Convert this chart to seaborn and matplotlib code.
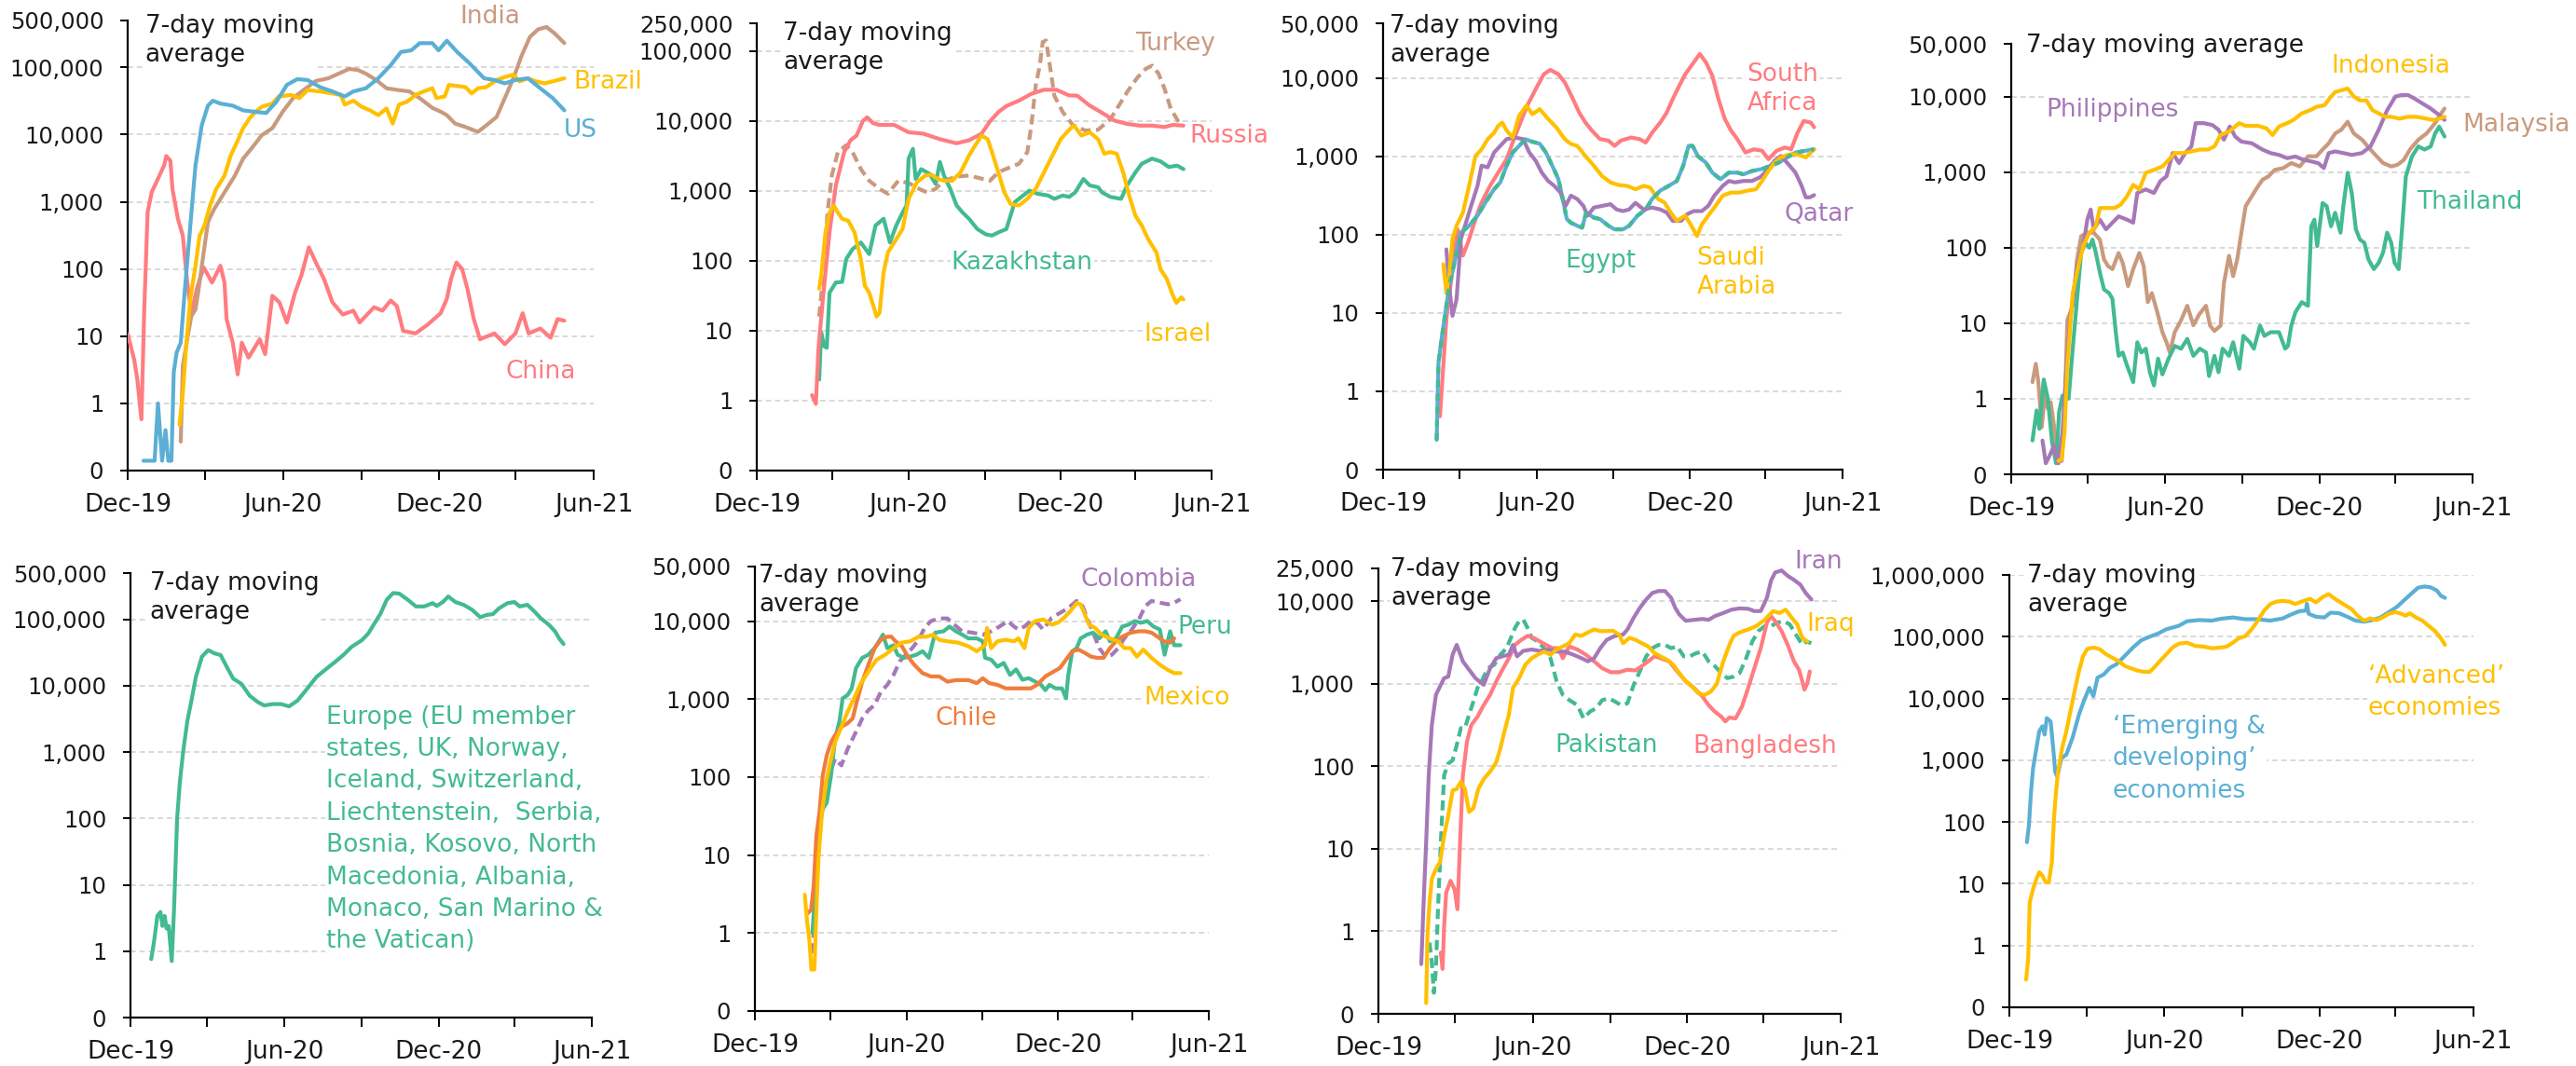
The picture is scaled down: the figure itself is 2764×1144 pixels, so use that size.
import numpy as np
import pandas as pd
import matplotlib
matplotlib.use("Agg")
import matplotlib.pyplot as plt
import matplotlib.dates as mdates
import seaborn as sns

sns.set_theme(style="white")
plt.rcParams["font.family"] = ["DejaVu Sans"]

# ---------------- data: months since 1 Dec 2019, 7-day average daily new cases ----------------
# Panel 1
china_m = [0.0,0.25,0.37,0.53,0.64,0.77,0.93,1.17,1.41,1.49,1.65,1.73,1.94,2.13,2.3,2.46,2.7,2.94,3.26,3.58,3.74,3.82,4.06,4.25,4.41,4.67,5.1,5.31,5.59,5.86,6.15,6.47,6.71,7.0,7.27,7.59,7.91,8.31,8.72,8.96,9.52,9.84,10.16,10.4,10.64,11.12,11.6,12.09,12.33,12.49,12.7,12.92,13.13,13.37,13.61,14.17,14.57,14.98,15.26,15.49,15.94,16.34,16.61,16.87]
china_v = [10.7,4.5,2.3,0.58,25,700,1400,2200,3500,4800,4100,1550,560,315,63,22,56,105,63,112,63,18,8,2.7,8,4.8,9,5.4,40,32,16,45,80,210,125,70,32,21,24,16,27,24,34,28,12,11,15,22,36,71,125,100,50,18,9,11,7.6,11,22,11,13,9.5,18,17]
us_m = [0.61,1.04,1.17,1.33,1.46,1.57,1.69,1.78,1.89,2.05,2.21,2.42,2.62,2.86,3.1,3.29,3.58,4.06,4.46,4.86,5.35,5.75,6.15,6.55,6.95,7.43,7.91,8.39,8.72,9.2,9.68,10.16,10.56,10.96,11.28,11.77,12.01,12.33,12.73,13.21,13.77,14.17,14.57,14.98,15.46,15.94,16.42,16.87]
us_v = [0.14,0.14,1.0,0.14,0.4,0.14,0.14,2.9,5.7,8,50,445,3500,13700,27000,32000,29000,27000,23000,22000,21000,31000,55000,67000,65000,51000,44000,37000,44000,49000,69000,108000,170000,180000,230000,230000,180000,250000,170000,115000,69000,65000,58000,65000,69000,49000,35000,23000]
india_m = [2.05,2.13,2.3,2.46,2.62,2.74,2.94,3.1,3.34,3.58,3.82,4.14,4.46,4.78,5.18,5.59,5.99,6.39,6.79,7.27,7.75,8.15,8.55,8.88,9.2,9.6,10.0,10.48,10.88,11.28,11.77,12.09,12.33,12.65,13.05,13.53,13.85,14.25,14.57,14.9,15.22,15.54,15.86,16.18,16.5,16.87]
india_v = [0.27,3.6,9,20,25,50,180,500,780,1100,1550,2450,4400,6200,9800,12500,22000,35000,46000,63000,69000,81000,95000,92000,81000,65000,49000,46000,44000,35000,25000,22000,19500,14600,13000,11000,13700,18300,35000,69000,150000,285000,370000,400000,320000,230000]
brazil_m = [2.0,2.13,2.26,2.42,2.62,2.78,2.97,3.18,3.42,3.74,3.98,4.22,4.46,4.7,4.94,5.18,5.59,5.83,6.31,6.63,6.95,7.43,7.91,8.23,8.39,8.72,9.04,9.36,9.68,10.0,10.24,10.48,10.8,11.12,11.44,11.77,11.93,12.25,12.41,12.73,13.05,13.29,13.53,13.85,14.25,14.57,14.9,15.14,15.46,15.78,16.1,16.42,16.87]
brazil_v = [0.48,1.4,7.2,36,112,315,445,880,1550,2450,4900,7700,12500,17300,22000,26000,29000,37000,39000,35000,46000,44000,41000,39000,28000,32000,26000,23000,19500,24500,14600,28000,31000,39000,44000,49000,35000,37000,55000,53000,51000,41000,49000,51000,65000,72000,78000,62000,69000,62000,58000,62000,69000]

# Panel 2
russia_m = [2.19,2.34,2.44,2.64,2.88,3.13,3.46,3.71,3.95,4.2,4.37,4.61,4.86,5.44,6.01,6.59,7.25,7.91,8.4,8.9,9.23,9.56,9.88,10.38,10.87,11.37,11.86,12.36,12.69,13.18,13.67,14.17,14.66,15.16,15.65,16.14,16.47,16.89]
russia_v = [1.2,0.9,5.5,35,255,1200,3600,5300,6200,10000,11300,9300,8800,8800,6900,6600,5500,4800,5300,6600,9900,13400,16400,19600,24500,28000,28000,23300,23000,16600,13100,10100,9100,8600,8600,8200,8800,8600]
turkey_m = [2.47,2.64,2.8,2.97,3.21,3.54,3.79,4.12,4.45,4.86,5.19,5.6,6.01,6.43,6.75,7.08,7.41,7.91,8.4,8.9,9.23,9.56,10.05,10.38,10.71,10.87,11.04,11.2,11.32,11.45,11.58,11.78,12.11,12.52,13.01,13.51,14.0,14.33,14.66,15.07,15.4,15.65,15.9,16.14,16.39,16.67,16.8]
turkey_v = [16,68,490,1660,3600,4500,3600,2050,1400,1070,910,1400,1300,1070,950,1070,1400,1600,1660,1500,1400,1850,2200,2450,3600,8700,32000,62000,135000,142000,70000,23000,13500,8700,7300,7500,10700,16600,26000,42000,56000,62000,48000,29000,14900,10100,9100]
kaz_m = [2.47,2.55,2.67,2.77,2.88,3.13,3.38,3.54,3.79,4.12,4.45,4.7,5.02,5.27,5.52,5.77,5.93,6.01,6.18,6.29,6.51,6.84,7.08,7.25,7.41,7.66,7.91,8.15,8.4,8.73,9.06,9.31,9.56,9.88,10.21,10.54,10.79,11.12,11.53,11.78,12.11,12.36,12.6,12.93,13.18,13.51,13.67,14.0,14.42,14.66,14.99,15.24,15.65,15.98,16.31,16.64,16.89]
kaz_v = [2,9.4,6,5.7,35,49,50,106,147,183,125,320,400,183,320,490,620,2900,4000,1480,2050,1750,1260,2600,1660,1070,620,490,400,285,240,230,255,285,690,860,1010,910,860,770,860,820,950,1480,1200,1130,950,820,770,1200,1850,2450,2900,2650,2200,2300,2050]
israel_m = [2.47,2.55,2.72,2.88,3.05,3.21,3.38,3.62,3.87,4.12,4.28,4.45,4.61,4.74,4.86,5.02,5.19,5.44,5.77,6.01,6.34,6.67,6.92,7.17,7.41,7.74,8.07,8.4,8.65,8.9,9.14,9.31,9.56,9.8,10.05,10.38,10.71,11.04,11.37,11.7,12.03,12.27,12.55,12.85,13.18,13.51,13.76,14.0,14.25,14.5,14.74,14.99,15.24,15.49,15.82,15.98,16.23,16.47,16.61,16.8,16.89]
israel_v = [40,61,255,490,620,490,400,375,255,105,44,35,23,16,18,68,132,183,285,770,1330,1660,1700,1480,1400,1400,1850,3200,4500,6200,5500,3600,1850,950,650,620,770,1070,1850,3200,5500,6900,8700,6200,6900,5500,3400,3600,3400,1850,860,440,320,205,132,76,55,32,25,30,28]

# Panel 3
safrica_m = [2.23,2.36,2.48,2.64,2.8,2.92,3.13,3.37,3.62,3.86,4.19,4.51,4.84,5.08,5.33,5.65,5.98,6.3,6.55,6.87,7.12,7.44,7.69,7.93,8.18,8.5,8.83,9.07,9.32,9.72,10.05,10.29,10.54,10.86,11.11,11.35,11.6,11.84,12.08,12.41,12.65,12.9,13.14,13.39,13.63,13.88,14.2,14.53,14.85,15.1,15.42,15.75,15.99,16.24,16.48,16.76,16.89]
safrica_v = [0.48,2.1,8.3,22,59,117,54,87,158,257,420,620,920,1500,2450,4450,7200,11200,12700,11200,8800,5400,3600,2700,2140,1660,1590,1360,1590,1740,1660,1500,2000,2700,3600,5400,7900,11200,14400,20300,15900,10700,5400,3000,2140,1660,1120,1230,1180,920,1180,1300,1230,2000,2830,2700,2350]
egypt_m = [2.1,2.17,2.31,2.44,2.59,2.8,3.05,3.37,3.7,4.02,4.35,4.59,4.84,5.08,5.33,5.57,5.81,6.14,6.38,6.63,6.87,7.04,7.2,7.36,7.61,7.8,7.96,8.26,8.5,8.83,9.07,9.4,9.64,9.97,10.29,10.54,10.86,11.19,11.51,11.76,11.97,12.13,12.33,12.65,12.9,13.22,13.55,13.88,14.12,14.45,14.85,15.18,15.5,15.83,16.16,16.56,16.89]
egypt_v = [0.24,2.3,5.1,10,22,44,106,130,175,260,380,465,760,1120,1360,1660,1550,1450,1120,760,510,285,158,142,130,123,192,165,158,130,117,117,130,175,210,285,365,420,485,760,1360,1360,1010,830,620,510,620,620,590,650,690,760,830,970,1120,1180,1230]
qatar_m = [2.48,2.59,2.72,2.88,3.05,3.21,3.45,3.7,3.86,4.1,4.35,4.59,4.84,5.16,5.49,5.73,5.98,6.22,6.47,6.71,6.95,7.15,7.36,7.61,7.85,8.01,8.26,8.58,8.91,9.15,9.4,9.64,9.89,10.21,10.54,10.86,11.11,11.35,11.68,11.92,12.17,12.49,12.74,12.98,13.31,13.55,13.79,14.12,14.45,14.77,15.1,15.34,15.59,15.83,16.16,16.4,16.56,16.73,16.89]
qatar_v = [65,22,9.2,15,88,130,233,420,760,725,1120,1360,1660,1740,1660,1120,880,620,485,420,345,233,315,285,233,175,222,233,245,210,200,210,255,210,222,210,192,150,150,183,200,200,233,315,420,485,465,485,485,540,690,880,1010,830,620,420,300,300,320]
saudi_m = [2.36,2.48,2.59,2.72,2.88,3.13,3.37,3.62,3.86,4.1,4.35,4.51,4.67,4.84,5.08,5.33,5.62,5.85,6.14,6.47,6.79,7.12,7.36,7.61,7.93,8.26,8.58,8.91,9.23,9.56,9.89,10.21,10.46,10.78,11.03,11.27,11.51,11.84,12.08,12.3,12.49,12.74,12.98,13.31,13.63,13.96,14.28,14.61,14.85,15.1,15.34,15.59,15.91,16.24,16.56,16.76,16.89]
saudi_v = [42,18,30,88,130,192,420,1010,1230,1660,2000,2450,2700,2140,1740,3300,4450,3450,4000,3000,2340,1660,1440,1360,1010,760,560,465,430,420,380,420,400,285,257,192,150,175,130,96,135,175,222,315,345,345,365,380,485,650,830,970,1060,1060,970,1120,1230]

# Panel 4
phil_m = [1.22,1.35,1.51,1.67,1.84,2.0,2.16,2.32,2.57,2.81,2.97,3.1,3.22,3.46,3.7,3.95,4.19,4.52,4.76,4.92,5.25,5.57,5.82,6.06,6.3,6.55,6.79,7.03,7.2,7.52,7.85,8.09,8.3,8.53,8.74,8.98,9.39,9.8,10.12,10.45,10.77,11.09,11.42,11.74,11.99,12.2,12.39,12.64,12.96,13.29,13.69,14.02,14.34,14.67,14.99,15.24,15.48,15.72,16.05,16.37,16.7,16.91]
phil_v = [0.28,0.14,0.18,0.24,0.14,0.36,2.75,12.5,57,105,235,320,175,235,175,214,260,235,214,530,590,530,760,880,1790,1320,1790,2190,4450,4450,4200,3640,2690,4020,2960,2540,2410,1990,1790,1690,1530,1610,1450,1380,1310,1130,1790,1880,1790,1690,1790,2190,3640,6600,10000,10500,10500,9500,8100,6950,5700,4900]
indo_m = [1.84,1.97,2.08,2.19,2.4,2.62,2.81,3.05,3.3,3.46,3.7,4.03,4.27,4.52,4.76,5.0,5.25,5.57,5.9,6.14,6.38,6.71,7.03,7.36,7.68,7.93,8.17,8.5,8.9,9.15,9.63,9.96,10.2,10.45,10.77,11.01,11.34,11.66,11.91,12.23,12.48,12.64,12.88,13.13,13.37,13.61,13.86,14.1,14.34,14.59,14.83,15.16,15.48,15.81,16.21,16.46,16.7,16.91]
indo_v = [0.15,0.16,0.36,2.75,25,57,105,158,190,335,335,335,370,480,680,590,980,1070,1190,1450,1790,1790,1880,1990,1990,2190,3100,3450,4450,4100,4100,3800,3100,4020,4450,4900,6000,6600,7300,7700,10000,11500,12100,12800,10000,8900,8900,6600,6000,5400,5400,5100,5400,5400,5100,4900,5100,5400]
malay_m = [0.83,0.96,1.06,1.19,1.32,1.43,1.54,1.67,1.75,1.97,2.08,2.19,2.4,2.57,2.73,2.97,3.22,3.46,3.62,3.78,3.95,4.19,4.35,4.56,4.76,5.0,5.17,5.33,5.49,5.7,5.9,6.06,6.19,6.38,6.63,6.87,7.11,7.33,7.6,7.76,7.93,8.17,8.3,8.5,8.66,8.82,8.98,9.15,9.31,9.55,9.8,10.04,10.28,10.61,10.93,11.26,11.58,11.91,12.15,12.39,12.64,12.88,13.13,13.37,13.69,14.02,14.26,14.51,14.83,15.07,15.32,15.56,15.89,16.21,16.54,16.78,16.91]
malay_v = [1.66,2.9,1.66,0.42,1.2,0.74,0.9,0.44,0.15,0.15,0.6,11,17,70,142,158,158,128,70,57,52,85,63,31,52,85,57,19,25,14,7.6,5.6,4.1,7.6,11,17,9.4,13,17,9.3,7.9,9.3,34,78,42,70,158,355,435,590,790,880,1070,1130,1320,1190,1620,1620,1990,2410,3250,3640,4650,3250,2690,1990,1620,1320,1190,1250,1450,1990,2690,3250,4450,6000,6950]
thai_m = [0.83,0.99,1.1,1.27,1.43,1.59,1.75,1.87,2.0,2.24,2.4,2.57,2.73,2.89,3.05,3.17,3.3,3.46,3.62,3.82,3.95,4.08,4.19,4.35,4.52,4.76,4.92,5.08,5.25,5.41,5.57,5.73,5.9,6.14,6.38,6.63,6.87,7.11,7.36,7.6,7.72,7.93,8.09,8.25,8.5,8.66,8.9,9.06,9.31,9.47,9.71,9.88,10.12,10.45,10.69,10.8,10.93,11.09,11.34,11.58,11.71,11.83,11.94,12.15,12.31,12.48,12.64,12.85,12.96,13.13,13.29,13.45,13.61,13.78,13.94,14.15,14.34,14.51,14.67,14.83,14.96,15.12,15.24,15.4,15.64,15.89,16.13,16.37,16.54,16.7,16.91]
thai_v = [0.28,0.7,0.4,1.8,1.0,0.27,0.14,0.67,1.1,1.0,4.6,21,86,116,100,128,86,47,28,25,21,7.6,3.7,4.1,2.75,1.66,5.6,4.1,4.6,2.25,1.5,3.4,2.1,3.4,5.0,4.6,6.2,3.7,4.6,4.1,2.0,3.7,2.25,4.6,3.7,5.6,2.5,6.8,5.6,4.6,9.3,6.8,7.6,7.6,4.6,5.0,9.3,14,19,17,192,235,105,390,355,192,290,158,355,980,530,175,128,116,70,52,63,86,158,116,63,52,158,880,1620,2190,1990,2190,3250,4000,2960]

# Panel 5
europe_m = [0.81,0.92,1.05,1.17,1.25,1.33,1.41,1.49,1.61,1.7,1.82,1.93,2.06,2.22,2.38,2.55,2.79,3.03,3.28,3.52,3.76,4.01,4.33,4.65,4.98,5.22,5.55,5.87,6.19,6.52,6.84,7.25,7.65,7.98,8.3,8.63,9.03,9.28,9.52,9.76,10.0,10.25,10.49,10.82,11.14,11.46,11.79,11.95,12.19,12.4,12.68,13.0,13.33,13.65,13.9,14.14,14.38,14.71,14.98,15.19,15.49,15.76,16.0,16.33,16.57,16.73,16.9]
europe_v = [0.76,1.4,3.4,3.9,2.4,3.4,2.2,2.4,0.71,4.3,100,365,1050,2960,6000,13500,27500,34500,30800,29000,19200,12800,10700,7100,5650,5050,5300,5300,4900,6000,8500,13500,18100,22800,29000,38700,48700,61300,87000,123000,198000,250000,245000,198000,157000,157000,176000,160000,183000,222000,183000,166000,140000,108000,117000,120000,147000,176000,183000,157000,166000,132000,105000,83000,66000,51600,42600]

# Panel 6
colombia_m = [2.28,2.39,2.49,2.61,2.77,2.94,3.18,3.43,3.68,4.01,4.26,4.5,4.75,5.0,5.25,5.5,5.74,5.99,6.24,6.49,6.73,6.98,7.31,7.64,7.89,8.22,8.63,9.04,9.37,9.7,10.03,10.28,10.45,10.69,10.94,11.19,11.44,11.77,12.1,12.43,12.76,13.0,13.22,13.42,13.66,13.91,14.16,14.41,14.65,14.9,15.23,15.48,15.73,16.06,16.39,16.63,16.88]
colombia_v = [0.55,2,8.8,29,58,105,172,141,230,380,565,720,840,1250,1520,2040,3030,3700,4500,5750,8150,10000,10800,10800,9100,7400,7100,6700,7400,8500,10000,8500,7800,8500,10000,9500,7800,11000,12700,14700,18100,15500,10000,7100,4500,3500,3700,4500,6000,7400,10500,15500,18100,17200,16400,17200,19000]
peru_m = [2.28,2.39,2.52,2.69,2.85,3.02,3.18,3.35,3.48,3.68,3.84,4.01,4.26,4.5,4.75,4.92,5.08,5.25,5.5,5.66,5.91,6.16,6.4,6.65,6.9,7.15,7.48,7.72,7.97,8.22,8.47,8.8,9.04,9.13,9.37,9.62,9.87,10.12,10.36,10.61,10.86,11.11,11.35,11.52,11.68,11.93,12.18,12.34,12.43,12.59,12.76,12.92,13.17,13.42,13.66,13.91,14.08,14.32,14.57,14.82,15.07,15.31,15.56,15.81,16.06,16.25,16.47,16.63,16.88]
peru_v = [1,3.3,19.5,39,47,105,310,510,1020,1130,1370,2500,3380,3700,4500,5500,6700,4500,4900,3700,3380,3500,3700,4100,3380,7100,7400,8500,7400,6700,6000,6000,5500,3380,3200,2600,2900,2040,2400,1770,1850,1680,1520,1300,1520,1370,1370,1020,2040,4100,4500,6000,6700,7100,6000,7400,5500,6000,8500,9000,10000,9500,10000,8500,7800,3700,7400,4900,4900]
chile_m = [2.11,2.23,2.33,2.44,2.56,2.69,2.85,3.02,3.18,3.43,3.68,3.88,4.04,4.26,4.5,4.75,5.0,5.25,5.41,5.58,5.83,6.07,6.32,6.65,6.98,7.31,7.64,7.97,8.47,8.8,9.04,9.29,9.62,9.95,10.28,10.61,10.94,11.19,11.52,11.85,12.1,12.34,12.59,12.84,13.09,13.33,13.58,13.83,14.08,14.32,14.57,14.9,15.23,15.48,15.73,15.97,16.22,16.47,16.63]
chile_v = [1.8,2,4,18,35,105,190,280,345,440,490,565,925,1670,2750,4500,5750,6300,6300,5500,4750,3500,2750,2150,1950,1950,1670,1750,1750,1600,1850,1600,1520,1370,1370,1370,1370,1520,1950,2250,2500,3200,4100,4300,3900,3500,3380,3380,4500,5500,6300,7100,7400,7400,7100,6300,5500,5300,6000]
mexico_m = [1.98,2.06,2.16,2.24,2.36,2.44,2.52,2.66,2.82,2.99,3.18,3.43,3.68,3.93,4.17,4.5,4.83,5.17,5.5,5.83,6.16,6.49,6.82,7.06,7.31,7.64,8.05,8.47,8.8,9.13,9.21,9.37,9.62,9.95,10.28,10.45,10.69,10.86,11.11,11.44,11.77,12.01,12.26,12.51,12.76,12.92,13.09,13.25,13.5,13.75,14.08,14.41,14.65,14.9,15.15,15.4,15.73,16.06,16.39,16.63,16.88]
mexico_v = [3.1,1.5,0.82,0.34,0.34,2,8.8,35,86,156,280,440,690,1020,1520,2250,3200,3700,4500,5300,5500,6300,6300,6700,5750,5500,5300,4750,4100,4900,8150,4500,5500,5750,5500,6000,4500,8150,10000,10500,9000,9500,11000,13400,17000,16400,12100,9000,8150,6700,6000,5500,4500,4500,3500,4300,3380,2750,2350,2150,2150]

# Panel 7
iran_m = [1.67,1.75,1.86,1.96,2.08,2.24,2.43,2.56,2.72,2.89,3.05,3.29,3.53,3.78,4.1,4.35,4.59,4.83,5.08,5.24,5.4,5.64,5.97,6.29,6.62,6.94,7.26,7.59,7.91,8.16,8.4,8.64,8.89,9.21,9.53,9.7,9.94,10.18,10.43,10.67,10.91,11.16,11.4,11.56,11.72,11.97,12.29,12.62,12.86,13.1,13.43,13.75,14.07,14.4,14.64,14.89,15.13,15.29,15.45,15.7,15.94,16.18,16.43,16.64,16.86]
iran_v = [0.4,1.85,12,78,316,735,970,1170,1220,2250,2960,1870,1480,1170,970,1540,2040,2150,2250,2960,2150,2500,2600,2500,2600,2450,2450,2250,2040,1870,2040,2700,3400,3800,3950,4550,6300,8300,10500,12600,13300,13300,11000,8300,6900,5800,5950,6100,5950,6600,7200,7900,8200,8100,7600,7600,11000,17700,22300,23600,20300,18200,15900,12600,10500]
pak_m = [1.99,2.08,2.16,2.24,2.32,2.43,2.56,2.72,2.89,3.05,3.21,3.37,3.53,3.7,3.86,4.02,4.26,4.51,4.75,4.99,5.16,5.32,5.48,5.64,5.81,5.97,6.21,6.45,6.7,6.94,7.18,7.43,7.75,7.99,8.24,8.48,8.72,8.97,9.21,9.45,9.7,9.94,10.18,10.43,10.67,10.91,11.16,11.4,11.64,11.89,12.13,12.37,12.62,12.86,13.1,13.35,13.59,13.83,14.07,14.32,14.56,14.8,15.05,15.29,15.53,15.78,16.02,16.26,16.51,16.67,16.86]
pak_v = [0.73,0.42,0.18,0.35,1.85,12,78,108,118,180,290,290,420,610,890,1070,1540,1700,2250,2700,3600,4750,5750,6000,4750,3600,3250,2700,2050,1070,735,635,550,380,460,505,635,665,610,550,580,970,1410,2150,2700,2960,2960,2700,2830,2150,2150,2350,2450,1870,1640,1350,1170,1220,1350,2040,3250,4350,5000,5000,5500,5750,5250,3950,2960,3250,3100]
bang_m = [2.43,2.5,2.56,2.64,2.81,2.97,3.08,3.18,3.29,3.45,3.62,3.86,4.1,4.35,4.59,4.83,5.08,5.32,5.56,5.81,6.05,6.29,6.53,6.78,7.02,7.18,7.43,7.75,8.08,8.4,8.72,9.05,9.37,9.7,10.02,10.26,10.51,10.75,10.99,11.32,11.64,11.97,12.29,12.62,12.86,13.1,13.35,13.51,13.67,13.91,14.16,14.4,14.64,14.89,15.13,15.29,15.45,15.7,15.94,16.18,16.38,16.51,16.59,16.7,16.8]
bang_v = [0.55,0.35,1.16,2.95,4.1,3.2,1.85,12,78,200,316,400,550,735,1070,1480,2040,2960,3400,3800,3600,3250,2960,2700,2700,2040,2830,2600,2250,1870,1540,1380,1380,1480,1450,1640,1870,2150,2040,1870,1410,1070,890,700,550,460,400,350,390,380,530,890,1540,2700,5500,6600,5750,4350,2960,1870,1480,1070,850,1000,1410]
iraq_m = [1.86,1.91,1.99,2.08,2.24,2.4,2.56,2.72,2.89,3.05,3.21,3.37,3.53,3.7,3.89,4.1,4.35,4.59,4.75,4.91,5.08,5.24,5.48,5.72,5.97,6.21,6.45,6.7,6.94,7.18,7.43,7.67,7.91,8.16,8.4,8.64,8.89,9.13,9.37,9.53,9.78,10.02,10.26,10.51,10.75,10.99,11.24,11.48,11.72,11.97,12.21,12.45,12.7,12.94,13.18,13.43,13.67,13.83,14.07,14.4,14.72,15.05,15.37,15.62,15.86,16.1,16.31,16.51,16.7]
iraq_v = [0.135,0.88,2.2,4.3,5.7,6.9,14.5,25,51,53,65,53,28,31,53,70,86,112,165,265,420,890,1170,1700,2040,2250,2450,2250,2600,2830,3100,3950,3800,4200,4550,4350,4350,4400,3950,3100,3600,3400,3100,2830,2350,2150,1950,1700,1350,1070,930,770,730,800,1000,1870,2960,3800,4200,4550,5000,6000,7600,7200,7900,6300,5250,3600,3250]

# Panel 8
emerg_m = [0.68,0.76,0.84,0.92,1.05,1.16,1.28,1.37,1.45,1.6,1.7,1.78,1.86,2.02,2.21,2.45,2.7,2.89,3.1,3.26,3.42,3.66,3.91,4.15,4.47,4.79,5.12,5.44,5.76,6.09,6.57,6.89,7.38,7.86,8.19,8.67,9.15,9.64,10.12,10.61,10.93,11.25,11.5,11.54,11.61,11.9,12.22,12.46,12.79,13.11,13.43,13.76,14.08,14.4,14.72,15.05,15.37,15.61,15.85,16.1,16.34,16.58,16.74,16.9]
emerg_v = [47,89,310,740,1580,2950,3550,2600,4800,4250,1580,650,545,1080,1230,2300,5500,9100,14900,10900,21700,24500,31600,35700,48500,66500,87700,100000,112000,132000,150000,178000,186000,182000,195000,205000,192000,192000,182000,198000,229000,259000,264000,340000,235000,210000,205000,245000,240000,210000,182000,175000,186000,205000,250000,308000,410000,505000,620000,650000,630000,560000,460000,425000]
adv_m = [0.65,0.73,0.79,0.92,1.05,1.16,1.28,1.4,1.53,1.65,1.73,1.81,1.89,2.05,2.21,2.37,2.53,2.7,2.86,3.02,3.26,3.5,3.75,3.99,4.23,4.47,4.71,4.96,5.2,5.44,5.6,5.84,6.09,6.33,6.57,6.89,7.22,7.54,7.86,8.19,8.43,8.67,8.91,9.15,9.4,9.64,9.88,10.12,10.36,10.61,10.85,11.09,11.33,11.66,11.9,12.14,12.38,12.63,12.95,13.27,13.51,13.76,14.0,14.24,14.48,14.72,14.97,15.21,15.37,15.53,15.77,16.02,16.26,16.5,16.71,16.9]
adv_v = [0.28,0.6,5,8.2,12,15.4,13.6,10.6,10.6,22.5,114,310,655,1590,2940,6200,13100,27600,48700,63000,66800,63000,52000,45700,40400,33700,30800,28400,27000,27000,31200,40400,52000,66800,77000,80000,70800,69000,65000,66800,69000,80000,95000,102000,132000,182000,264000,338000,370000,380000,370000,338000,370000,410000,360000,435000,490000,410000,338000,280000,218000,182000,198000,186000,205000,235000,250000,235000,218000,240000,205000,182000,150000,125000,98000,74000]

# axis tops (y limits) of each panel
panel_tops = [500000, 250000, 50000, 50000, 500000, 50000, 25000, 1000000]
x_major_labels = ["Dec-19", "Jun-20", "Dec-20", "Jun-21"]

# ---------------- styling ----------------
PINK, BLUE, TAN, YEL = "#FF7C80", "#5BAFD4", "#C99A7E", "#FFC000"
GRN, PUR, ORG = "#42BA92", "#A678B8", "#F07D3C"
TXT = "#1A1A1A"
FS_Y = 17.5
FS_X = 19
FS_T = 19
LW = 3.0

W, H = 2764, 1144
fig = plt.figure(figsize=(W / 100, H / 100), dpi=100)
fig.patch.set_facecolor("white")

rects_px = [(137, 22, 637, 505), (812, 25, 1300, 505), (1484, 25, 1977, 504), (2158, 47, 2653, 509),
            (140, 615, 635, 1092), (810, 608, 1297, 1085), (1479, 610, 1975, 1088), (2156, 617, 2654, 1081)]

START = pd.Timestamp("2019-12-01")
END = pd.Timestamp("2021-06-01")


def to_dates(m):
    return START + pd.to_timedelta(np.asarray(m, dtype=float) * 30.44, unit="D")


def draw(ax, m, v, color, dashes=None, z=3):
    n = min(len(m), len(v))
    d = to_dates(m[:n])
    sns.lineplot(x=d, y=np.asarray(v[:n], dtype=float), ax=ax, color=color, linewidth=LW,
                 estimator=None, sort=False, legend=False)
    ln = ax.get_lines()[-1]
    ln.set_zorder(z)
    ln.set_solid_capstyle("round")
    ln.set_solid_joinstyle("round")
    if dashes is not None:
        ln.set_dashes(dashes)
        ln.set_dash_capstyle("butt")
    return ln


def fmt(v):
    return "0" if v < 0.5 else f"{int(round(v)):,}"


def setup(ax, top):
    ax.set_yscale("log")
    ax.set_ylim(0.1, top)
    ax.set_xlim(mdates.date2num(START), mdates.date2num(END))
    decs = [10.0 ** k for k in range(0, 7) if 10.0 ** k <= top * 1.0001]
    ticks = [0.1] + decs
    if top not in decs:
        ticks.append(top)
    ax.yaxis.set_major_locator(matplotlib.ticker.FixedLocator(ticks))
    ax.yaxis.set_minor_locator(matplotlib.ticker.NullLocator())
    ax.set_yticklabels([fmt(t) for t in ticks])
    for g in decs:
        ax.axhline(g, color="#D9D9D9", lw=1.4, ls=(0, (3.0, 2.0)), zorder=0.5)
    maj = [pd.Timestamp(s) for s in ["2019-12-01", "2020-06-01", "2020-12-01", "2021-06-01"]]
    mnr = [pd.Timestamp(s) for s in ["2020-03-01", "2020-09-01", "2021-03-01"]]
    ax.set_xticks([mdates.date2num(t) for t in maj])
    ax.set_xticklabels(x_major_labels)
    ax.set_xticks([mdates.date2num(t) for t in mnr], minor=True)
    for s in ["top", "right"]:
        ax.spines[s].set_visible(False)
    for s in ["left", "bottom"]:
        ax.spines[s].set_color("black")
        ax.spines[s].set_linewidth(1.6)
    ax.tick_params(axis="y", which="both", direction="out", length=5.5, width=1.4, color="black",
                   labelsize=FS_Y, pad=13, labelcolor=TXT, left=True)
    ax.tick_params(axis="x", which="both", direction="out", length=7, width=1.4, color="black",
                   labelsize=FS_X, pad=10, labelcolor=TXT, bottom=True)
    ax.set_xlabel("")
    ax.set_ylabel("")
    ax.set_facecolor("white")


def label(ax, s, x, y, color, ha="left", va="center", ls=1.25):
    ax.text(x, y, s, transform=ax.transAxes, color=color, fontsize=FS_T, ha=ha, va=va,
            multialignment="left", zorder=2.5, linespacing=ls,
            bbox=dict(facecolor="white", edgecolor="none", pad=1.0), clip_on=False)


axes = []
for i, (l, t, r, b) in enumerate(rects_px):
    ax = fig.add_axes([l / W, 1 - b / H, (r - l) / W, (b - t) / H])
    axes.append(ax)

BIG = 1.42

# Panel 1
ax = axes[0]
draw(ax, china_m, china_v, PINK)
draw(ax, india_m, india_v, TAN)
draw(ax, brazil_m, brazil_v, YEL)
draw(ax, us_m, us_v, BLUE)
setup(ax, panel_tops[0])
label(ax, "7-day moving\naverage", 0.037, 1.015, TXT, va="top")
label(ax, "India", 0.777, 1.009, TAN, ha="center")
label(ax, "Brazil", 0.957, 0.864, YEL)
label(ax, "US", 0.971, 0.756, BLUE, ha="center")
label(ax, "China", 0.887, 0.22, PINK, ha="center")

# Panel 2
ax = axes[1]
draw(ax, turkey_m, turkey_v, TAN, dashes=[2.6, 1.4])
draw(ax, kaz_m, kaz_v, GRN)
draw(ax, russia_m, russia_v, PINK)
draw(ax, israel_m, israel_v, YEL)
setup(ax, panel_tops[1])
label(ax, "7-day moving\naverage", 0.058, 1.004, TXT, va="top")
label(ax, "Turkey", 0.833, 0.955, TAN)
label(ax, "Russia", 0.951, 0.747, PINK)
label(ax, "Kazakhstan", 0.428, 0.464, GRN)
label(ax, "Israel", 0.851, 0.304, YEL)

# Panel 3
ax = axes[2]
draw(ax, safrica_m, safrica_v, PINK)
draw(ax, egypt_m, egypt_v, BLUE)
draw(ax, egypt_m, egypt_v, GRN, dashes=[1.7, 1.7], z=3.1)
draw(ax, qatar_m, qatar_v, PUR)
draw(ax, saudi_m, saudi_v, YEL)
setup(ax, panel_tops[2])
label(ax, "7-day moving\naverage", 0.014, 1.02, TXT, va="top")
label(ax, "South\nAfrica", 0.792, 0.852, PINK)
label(ax, "Qatar", 0.873, 0.572, PUR)
label(ax, "Egypt", 0.397, 0.467, GRN)
label(ax, "Saudi\nArabia", 0.683, 0.441, YEL)

# Panel 4
ax = axes[3]
draw(ax, malay_m, malay_v, TAN)
draw(ax, thai_m, thai_v, GRN)
draw(ax, phil_m, phil_v, PUR)
draw(ax, indo_m, indo_v, YEL)
setup(ax, panel_tops[3])
label(ax, "7-day moving average", 0.032, 1.024, TXT, va="top")
label(ax, "Indonesia", 0.693, 0.947, YEL)
label(ax, "Philippines", 0.075, 0.847, PUR)
label(ax, "Malaysia", 0.979, 0.812, TAN)
label(ax, "Thailand", 0.88, 0.631, GRN)

# Panel 5
ax = axes[4]
draw(ax, europe_m, europe_v, GRN)
setup(ax, panel_tops[4])
label(ax, "7-day moving\naverage", 0.042, 1.005, TXT, va="top")
label(ax, "Europe (EU member\nstates, UK, Norway,\nIceland, Switzerland,\nLiechtenstein,  Serbia,\n"
          "Bosnia, Kosovo, North\nMacedonia, Albania,\nMonaco, San Marino &\nthe Vatican)",
      0.425, 0.703, GRN, va="top", ls=BIG)

# Panel 6
ax = axes[5]
draw(ax, colombia_m, colombia_v, PUR, dashes=[2.6, 1.4])
draw(ax, peru_m, peru_v, GRN)
draw(ax, chile_m, chile_v, ORG)
draw(ax, mexico_m, mexico_v, YEL)
setup(ax, panel_tops[5])
label(ax, "7-day moving\naverage", 0.009, 1.007, TXT, va="top")
label(ax, "Colombia", 0.718, 0.971, PUR)
label(ax, "Peru", 0.93, 0.864, GRN)
label(ax, "Mexico", 0.858, 0.704, YEL)
label(ax, "Chile", 0.397, 0.658, ORG)

# Panel 7
ax = axes[6]
draw(ax, pak_m, pak_v, GRN, dashes=[2.6, 1.4])
draw(ax, bang_m, bang_v, PINK)
draw(ax, iran_m, iran_v, PUR)
draw(ax, iraq_m, iraq_v, YEL)
setup(ax, panel_tops[6])
label(ax, "7-day moving\naverage", 0.027, 1.025, TXT, va="top")
label(ax, "Iran", 0.9, 1.014, PUR)
label(ax, "Iraq", 0.926, 0.874, YEL)
label(ax, "Pakistan", 0.381, 0.602, GRN)
label(ax, "Bangladesh", 0.681, 0.6, PINK)

# Panel 8
ax = axes[7]
draw(ax, emerg_m, emerg_v, BLUE)
draw(ax, adv_m, adv_v, YEL)
setup(ax, panel_tops[7])
label(ax, "7-day moving\naverage", 0.038, 1.026, TXT, va="top")
label(ax, "\u2018Emerging &\ndeveloping\u2019\neconomies", 0.222, 0.677, BLUE, va="top", ls=BIG)
label(ax, "\u2018Advanced\u2019\neconomies", 0.773, 0.793, YEL, va="top", ls=BIG)

fig.savefig("out.png", dpi=100, facecolor="white")
